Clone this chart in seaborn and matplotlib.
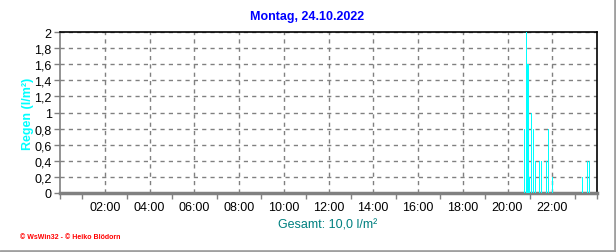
import matplotlib
matplotlib.use("Agg")
import matplotlib.pyplot as plt
from matplotlib.lines import Line2D
from matplotlib.ticker import MultipleLocator, FuncFormatter
import seaborn as sns
import pandas as pd

# Data: rain per 5-minute interval (l/m²)
times = ["20:45", "20:50", "20:55", "21:00", "21:05", "21:10", "21:15", "21:25",
         "21:30", "21:45", "21:50", "22:00", "23:20", "23:35", "23:40"]
rain = [0.8, 2.0, 1.6, 0.2, 1.0, 0.8, 0.4, 0.4, 0.4, 0.4, 0.8, 0.2, 0.2, 0.4, 0.4]
x_tick_labels = ["02:00", "04:00", "06:00", "08:00", "10:00", "12:00",
                 "14:00", "16:00", "18:00", "20:00", "22:00"]
title = "Montag, 24.10.2022"
total_text = "Gesamt: 10,0 l/m²"

hours = [int(t[:2]) + int(t[3:]) / 60 for t in times]
df = pd.DataFrame({"h": hours, "rain": rain})

sns.set_theme(style="white")
plt.rcParams["font.family"] = ["Liberation Sans", "DejaVu Sans"]

fig = plt.figure(figsize=(6.16, 2.53), dpi=100)
fig.patch.set_facecolor("white")
ax = fig.add_axes([60 / 616, 59 / 253, 537 / 616, 161 / 253])

sns.barplot(data=df, x="h", y="rain", native_scale=True, width=0.6,
            color="#00FFFF", saturation=1, linewidth=0, ax=ax, zorder=3)
for p in ax.patches:
    p.set_antialiased(False)

ax.set_xlim(0, 24)
ax.set_ylim(0, 2)
ax.set_xticks([2 * (i + 1) for i in range(len(x_tick_labels))])
ax.set_xticklabels(x_tick_labels)
ax.xaxis.set_minor_locator(MultipleLocator(1))
ax.yaxis.set_major_locator(MultipleLocator(0.2))
ax.yaxis.set_major_formatter(FuncFormatter(
    lambda v, p: ("%g" % round(v, 1)).replace(".", ",")))

ax.grid(True, which="major", color="#808080", linestyle=(0, (3, 3)), linewidth=1)
ax.set_axisbelow(True)

ax.tick_params(axis="x", which="both", direction="out", length=4, width=1,
               color="#808080", labelsize=9, pad=6, labelcolor="black", bottom=True)
ax.tick_params(axis="x", which="major", length=0)
ax.tick_params(axis="x", which="minor", length=4)
ax.tick_params(axis="y", direction="out", length=4, width=1, color="#808080",
               labelsize=9, pad=2, labelcolor="black", left=True)

for side in ["top", "right"]:
    ax.spines[side].set_color("black")
    ax.spines[side].set_linewidth(1.2)
ax.spines["left"].set_color("#808080")
ax.spines["left"].set_linewidth(1.2)
ax.spines["bottom"].set_color("#808080")
ax.spines["bottom"].set_linewidth(2.5)

ax.set_xlabel(total_text, color="#008080", fontsize=9, labelpad=1)
ax.xaxis.set_label_coords((328 - 60) / 537, -0.16)
ax.set_ylabel("Regen (l/m²)", color="#00FFFF", fontsize=9, fontweight="bold",
              va="center")
ax.yaxis.set_label_coords(-(60 - 28) / 537, 0.5)

fig.text(307 / 616, 1 - 17 / 253, title, color="#0000FF", fontsize=9,
         fontweight="bold", ha="center", va="center")
fig.text(20 / 616, 1 - 238 / 253, "© WsWin32 - © Heiko Blödorn", color="#FF0000",
         fontsize=5, fontweight="bold", ha="left", va="center")

# figure frame (right and bottom)
fig.add_artist(Line2D([614.5 / 616, 614.5 / 616], [1, 1.5 / 253], transform=fig.transFigure,
                      color="#A0A0A0", linewidth=2))
fig.add_artist(Line2D([0, 614.5 / 616], [1.5 / 253, 1.5 / 253], transform=fig.transFigure,
                      color="#A0A0A0", linewidth=2))

fig.savefig("out.png", dpi=100, facecolor="white")
